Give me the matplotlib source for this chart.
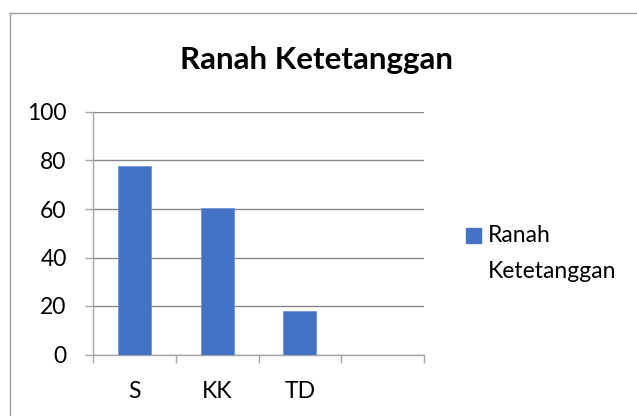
import matplotlib.pyplot as plt
from matplotlib.lines import Line2D
from matplotlib.patches import Rectangle

categories = ["S", "KK", "TD", ""]
values = [77.8, 60.5, 18, None]
series_name = ["Ranah", "Ketetanggan"]
title = "Ranah Ketetanggan"
yticks = [0, 20, 40, 60, 80, 100]

plt.rcParams['font.family'] = ['Lato', 'DejaVu Sans']

W, H = 637, 416
fig = plt.figure(figsize=(W / 100, H / 100), dpi=100)
ax = fig.add_axes([93 / W, 1 - 354.5 / H, 331 / W, 242.5 / H])

bar_color = "#4472C4"
grid_color = "#878787"
axis_color = "#A6A6A6"
fs = 16.5

xs = [i for i, v in enumerate(values) if v is not None]
hs = [v for v in values if v is not None]
ax.bar(xs, hs, width=0.4, color=bar_color, edgecolor="#6F93D6", linewidth=0.6, zorder=3)

ax.set_xlim(-0.5, len(categories) - 0.5)
ax.set_ylim(0, 100)
ax.set_yticks(yticks)
ax.set_yticklabels([str(t) for t in yticks], fontsize=fs)
ax.yaxis.grid(True, color=grid_color, linewidth=1.0, zorder=0)

# category labels centered, tick marks at boundaries
ax.set_xticks(range(len(categories)))
ax.set_xticklabels(categories, fontsize=fs)
ax.tick_params(axis='x', which='major', length=0, pad=19)
ax.set_xticks([i - 0.5 for i in range(len(categories) + 1)], minor=True)
ax.tick_params(axis='x', which='minor', length=6, width=1.0, color=axis_color, direction='out')
ax.tick_params(axis='y', length=6, width=1.0, color=axis_color, pad=13)

for s in ["top", "right"]:
    ax.spines[s].set_visible(False)
for s in ["left", "bottom"]:
    ax.spines[s].set_color(axis_color)
    ax.spines[s].set_linewidth(1.0)

fig.text(317 / W, 1 - 60 / H, title, fontsize=22.5, fontweight='bold',
         ha='center', va='center')

# legend, drawn by hand to get the wide line spacing
fig.add_artist(Rectangle((466 / W, 1 - 243 / H), 15 / W, 15 / H, color=bar_color,
                         transform=fig.transFigure))
fig.text(488 / W, 1 - 236 / H, series_name[0], fontsize=fs, ha='left', va='center')
fig.text(488 / W, 1 - 271 / H, series_name[1], fontsize=fs, ha='left', va='center')

# chart area frame (left and top visible)
fig.add_artist(Line2D([10 / W, 10 / W], [0, 1 - 13 / H], color="#A0A0A0",
                      linewidth=1.0, transform=fig.transFigure))
fig.add_artist(Line2D([10 / W, 1], [1 - 13 / H, 1 - 13 / H], color="#A0A0A0",
                      linewidth=1.0, transform=fig.transFigure))

fig.savefig("out.png", dpi=100)
